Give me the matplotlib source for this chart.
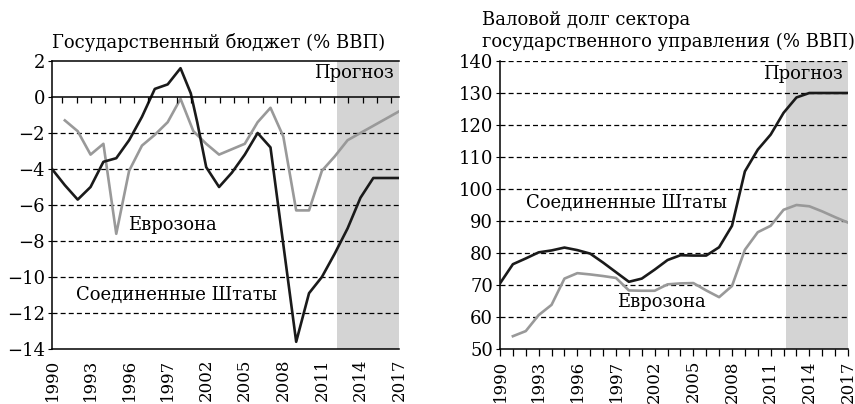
import matplotlib
matplotlib.use("Agg")
import matplotlib.pyplot as plt
import numpy as np

plt.rcParams['font.family'] = ['DejaVu Serif']

# Государственный бюджет (% ВВП)
years_us_bal = [1990, 1991, 1992, 1993, 1994, 1995, 1996, 1997, 1998, 1999, 2000,
                2000.8, 2001.3, 2002, 2003, 2004, 2005, 2006, 2007, 2008, 2009,
                2010, 2011, 2012, 2013, 2014, 2015, 2016, 2017]
us_bal = [-4.0, -4.9, -5.7, -5.0, -3.6, -3.4, -2.4, -1.1, 0.45, 0.7, 1.6,
          0.2, -1.4, -3.9, -5.0, -4.2, -3.2, -2.0, -2.8, -8.2, -13.6,
          -10.9, -10.0, -8.7, -7.3, -5.6, -4.5, -4.5, -4.5]

years_ez_bal = [1991, 1992, 1993, 1994, 1995, 1996, 1997, 1998, 1999, 2000, 2001,
                2002, 2003, 2004, 2005, 2006, 2007, 2008, 2009, 2010, 2011,
                2012, 2013, 2014, 2015, 2016, 2017]
ez_bal = [-1.3, -1.9, -3.2, -2.6, -7.6, -4.1, -2.7, -2.1, -1.4, -0.1, -1.9,
          -2.6, -3.2, -2.9, -2.6, -1.4, -0.6, -2.2, -6.3, -6.3, -4.1,
          -3.3, -2.4, -2.0, -1.6, -1.2, -0.8]

# Валовой долг (% ВВП)
years_us_debt = [1990, 1991, 1992, 1993, 1994, 1995, 1996, 1997, 1998, 1999, 2000,
                 2001, 2002, 2003, 2004, 2005, 2006, 2007, 2008, 2009, 2010,
                 2011, 2012, 2013, 2014, 2015, 2016, 2017]
us_debt = [70.5, 76.5, 78.3, 80.2, 80.8, 81.7, 80.9, 79.8, 77.0, 74.0, 71.0,
           72.0, 74.8, 77.8, 79.3, 79.2, 79.2, 81.8, 88.5, 105.5, 112.3,
           117.0, 123.8, 128.6, 130.0, 130.0, 130.0, 130.0]

years_ez_debt = [1991, 1992, 1993, 1994, 1995, 1996, 1997, 1998, 1999, 2000, 2001,
                 2002, 2003, 2004, 2005, 2006, 2007, 2008, 2009, 2010, 2011,
                 2012, 2013, 2014, 2015, 2016, 2017]
ez_debt = [54.0, 55.6, 60.6, 63.8, 72.0, 73.7, 73.3, 72.8, 72.2, 68.3, 68.2,
           68.2, 70.2, 70.5, 70.6, 68.3, 66.2, 69.7, 81.0, 86.5, 88.5,
           93.5, 95.0, 94.6, 93.0, 91.2, 89.5]

xtick_years = [1990, 1993, 1996, 1999, 2002, 2005, 2008, 2011, 2014, 2017]
xtick_labels = ['1990', '1993', '1996', '1997', '2002', '2005', '2008', '2011', '2014', '2017']
forecast_start = 2012.2

BLACK = '#1a1a1a'
GREY = '#999999'
SHADE = '#d4d4d4'
FS = 13
dash = (0, (4, 2.5))

fig = plt.figure(figsize=(8.55, 4.04), dpi=100)
axl = fig.add_axes([52 / 855, 55 / 404, 347 / 855, 288 / 404])
axr = fig.add_axes([500 / 855, 55 / 404, 348 / 855, 288 / 404])

for ax in (axl, axr):
    ax.set_xlim(1990, 2017)
    ax.axvspan(forecast_start, 2017, color=SHADE, lw=0, zorder=0)
    ax.spines['right'].set_visible(False)
    ax.set_xticks(xtick_years)
    ax.set_xticklabels(xtick_labels, rotation=90, fontsize=12)
    ax.tick_params(axis='y', labelsize=FS, length=3, width=0.8, pad=2)
    for s in ax.spines.values():
        s.set_linewidth(1.1)

# left panel
axl.set_ylim(-14, 2)
axl.set_yticks(np.arange(-14, 3, 2))
for v in range(-12, 0, 2):
    axl.axhline(v, color='black', lw=0.9, ls=dash, zorder=1)
axl.tick_params(axis='x', length=0, pad=7)
axl.plot(years_ez_bal, ez_bal, color=GREY, lw=1.9, zorder=3)
axl.plot(years_us_bal, us_bal, color=BLACK, lw=1.9, zorder=4)

# axis line with ticks at zero
axz = axl.twiny()
axz.set_xlim(1990, 2017)
for side in ('top', 'left', 'right'):
    axz.spines[side].set_visible(False)
axz.spines['bottom'].set_position(('data', 0))
axz.spines['bottom'].set_linewidth(1.1)
axz.xaxis.set_ticks_position('bottom')
axz.set_xticks(np.linspace(1990.8, 2016.4, 24))
axz.tick_params(axis='x', direction='out', length=4, width=0.9, labelbottom=False)

axl.text(1995.9, -7.1, 'Еврозона', fontsize=FS, va='center', ha='left')
axl.text(1999.7, -11.0, 'Соединенные Штаты', fontsize=FS, va='center', ha='center')
axl.text(2016.6, 1.35, 'Прогноз', fontsize=FS, va='center', ha='right')

# right panel
axr.set_ylim(50, 140)
axr.set_yticks(np.arange(50, 141, 10))
axr.spines['top'].set_visible(False)
for v in range(60, 141, 10):
    axr.axhline(v, color='black', lw=0.9, ls=dash, zorder=1)
axr.set_xticks(np.arange(1990, 2018), minor=True)
axr.tick_params(axis='x', which='major', length=5, width=0.9, pad=3)
axr.tick_params(axis='x', which='minor', length=5, width=0.9)
axr.plot(years_ez_debt, ez_debt, color=GREY, lw=1.9, zorder=3)
axr.plot(years_us_debt, us_debt, color=BLACK, lw=1.9, zorder=4)

axr.text(1999.8, 95.5, 'Соединенные Штаты', fontsize=FS, va='center', ha='center')
axr.text(2002.5, 64.8, 'Еврозона', fontsize=FS, va='center', ha='center')
axr.text(2016.6, 136, 'Прогноз', fontsize=FS, va='center', ha='right')

fig.text(52 / 855, 1 - 42 / 404, 'Государственный бюджет (% ВВП)', fontsize=FS, ha='left', va='center')
fig.text(482 / 855, 1 - 20 / 404, 'Валовой долг сектора', fontsize=FS, ha='left', va='center')
fig.text(482 / 855, 1 - 42 / 404, 'государственного управления (% ВВП)', fontsize=FS, ha='left', va='center')

fig.savefig('out.png', dpi=100)
